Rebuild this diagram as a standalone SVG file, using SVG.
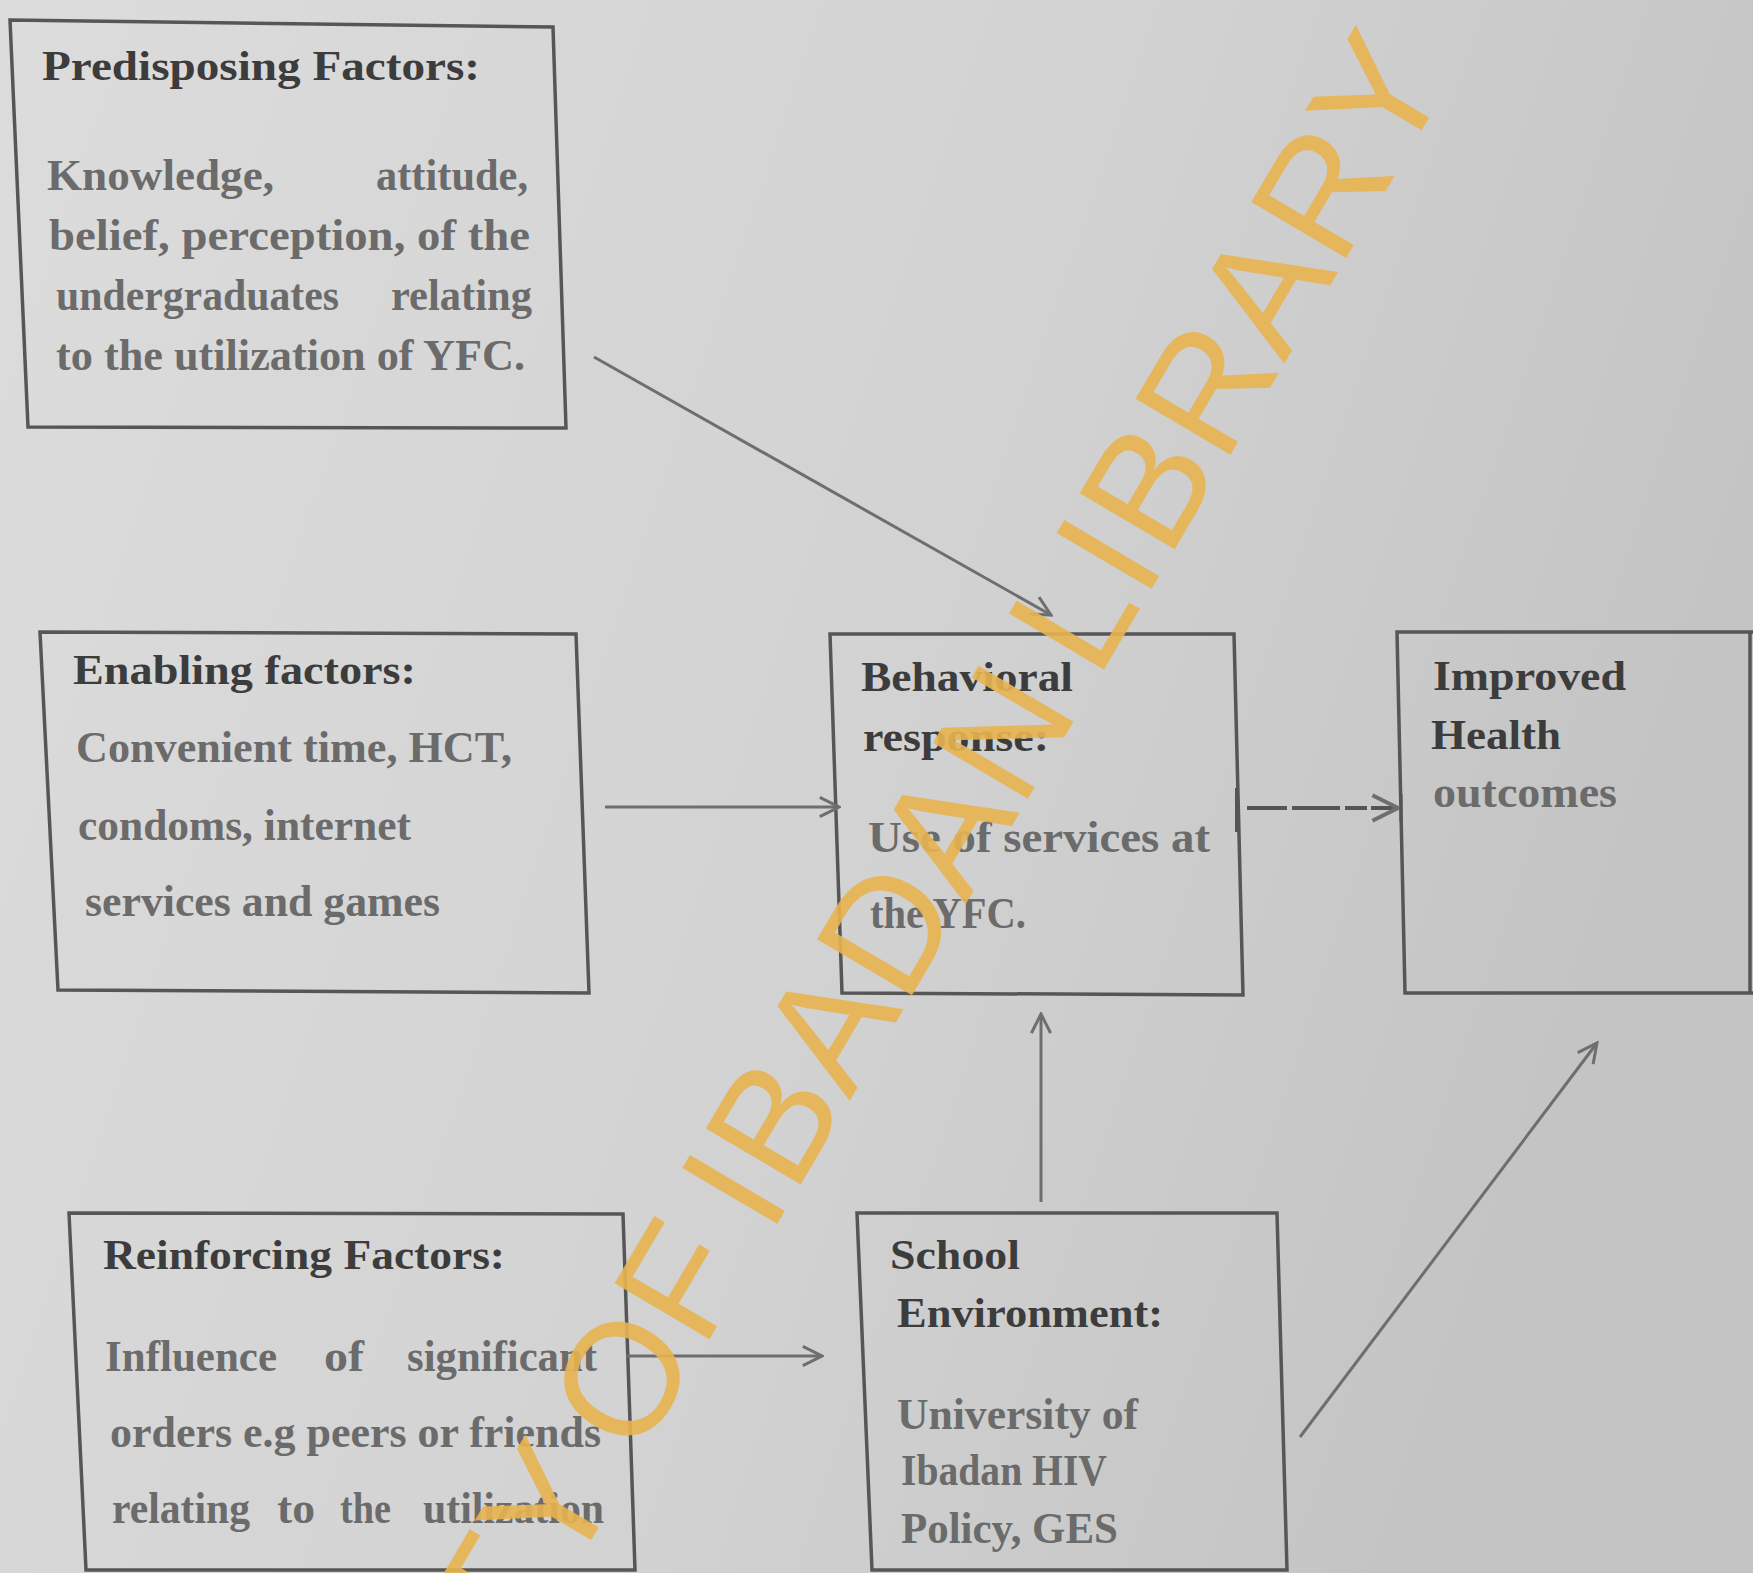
<svg xmlns="http://www.w3.org/2000/svg" width="1753" height="1573" viewBox="0 0 1753 1573">
<defs>
<linearGradient id="bg" x1="0" y1="0" x2="1" y2="0.3">
<stop offset="0" stop-color="#dcdcdc"/>
<stop offset="0.6" stop-color="#d2d2d2"/>
<stop offset="1" stop-color="#c4c4c4"/>
</linearGradient>
<marker id="chev" viewBox="0 0 20 20" refX="18" refY="10" markerWidth="8" markerHeight="8" orient="auto" markerUnits="strokeWidth">
<path d="M2,2 L18,10 L2,18" fill="none" stroke="#6e6e6e" stroke-width="2.5"/>
</marker>
<style>
.box{fill:none;stroke:#565656;stroke-width:3.5;stroke-linejoin:miter}
.ttl{font-family:"Liberation Serif",serif;font-weight:bold;font-size:42px;fill:#3c3c3c}
.bd{font-family:"Liberation Serif",serif;font-weight:bold;font-size:44px;fill:#6b6b6b}
.con{fill:none;stroke:#6e6e6e;stroke-width:3}
.wm{font-family:"Liberation Sans",sans-serif;font-size:160px;letter-spacing:3px;word-spacing:-16px;fill:#e8b450;opacity:0.9}
</style>
</defs>
<rect x="0" y="0" width="1753" height="1573" fill="url(#bg)"/>

<g id="predisposing">
<polygon class="box" points="10,20 553,27 566,428 28,427"/>
<text class="ttl" x="42" y="80" textLength="438" lengthAdjust="spacingAndGlyphs">Predisposing Factors:</text>
<text class="bd" x="47" y="190" textLength="227" lengthAdjust="spacingAndGlyphs">Knowledge,</text>
<text class="bd" x="376" y="190" textLength="152" lengthAdjust="spacingAndGlyphs">attitude,</text>
<text class="bd" x="49" y="250" textLength="481" lengthAdjust="spacingAndGlyphs">belief, perception, of the</text>
<text class="bd" x="56" y="310" textLength="283" lengthAdjust="spacingAndGlyphs">undergraduates</text>
<text class="bd" x="391" y="310" textLength="141" lengthAdjust="spacingAndGlyphs">relating</text>
<text class="bd" x="56" y="370" textLength="469" lengthAdjust="spacingAndGlyphs">to the utilization of YFC.</text>
</g>

<g id="enabling">
<polygon class="box" points="40,632 576,634 589,993 58,990"/>
<text class="ttl" x="73" y="684" textLength="343" lengthAdjust="spacingAndGlyphs">Enabling factors:</text>
<text class="bd" x="76" y="762" textLength="436" lengthAdjust="spacingAndGlyphs">Convenient time, HCT,</text>
<text class="bd" x="78" y="840" textLength="333" lengthAdjust="spacingAndGlyphs">condoms, internet</text>
<text class="bd" x="85" y="916" textLength="355" lengthAdjust="spacingAndGlyphs">services and games</text>
</g>

<g id="behavioral">
<polygon class="box" points="830,634 1234,634 1243,995 842,993"/>
<text class="ttl" x="861" y="691" textLength="212" lengthAdjust="spacingAndGlyphs">Behavioral</text>
<text class="ttl" x="863" y="751" textLength="186" lengthAdjust="spacingAndGlyphs">response:</text>
<text class="bd" x="868" y="852" textLength="342" lengthAdjust="spacingAndGlyphs">Use of services at</text>
<text class="bd" x="870" y="928" textLength="156" lengthAdjust="spacingAndGlyphs">the YFC.</text>
</g>

<g id="improved">
<polyline class="box" points="1760,632 1397,632 1405,993 1760,993"/>
<line class="box" x1="1750" y1="632" x2="1750" y2="993"/>
<text class="ttl" x="1433" y="690" textLength="193" lengthAdjust="spacingAndGlyphs">Improved</text>
<text class="ttl" x="1431" y="749" textLength="130" lengthAdjust="spacingAndGlyphs">Health</text>
<text class="bd" x="1433" y="807" textLength="184" lengthAdjust="spacingAndGlyphs">outcomes</text>
</g>

<g id="reinforcing">
<polygon class="box" points="69,1213 623,1214 635,1570 86,1570"/>
<text class="ttl" x="103" y="1269" textLength="402" lengthAdjust="spacingAndGlyphs">Reinforcing Factors:</text>
<text class="bd" x="105" y="1371" textLength="172" lengthAdjust="spacingAndGlyphs">Influence</text>
<text class="bd" x="324" y="1371" textLength="40" lengthAdjust="spacingAndGlyphs">of</text>
<text class="bd" x="407" y="1371" textLength="190" lengthAdjust="spacingAndGlyphs">significant</text>
<text class="bd" x="110" y="1447" textLength="491" lengthAdjust="spacingAndGlyphs">orders e.g peers or friends</text>
<text class="bd" x="112" y="1523" textLength="138" lengthAdjust="spacingAndGlyphs">relating</text>
<text class="bd" x="277" y="1523" textLength="38" lengthAdjust="spacingAndGlyphs">to</text>
<text class="bd" x="340" y="1523" textLength="51" lengthAdjust="spacingAndGlyphs">the</text>
<text class="bd" x="423" y="1523" textLength="181" lengthAdjust="spacingAndGlyphs">utilization</text>
</g>

<g id="school">
<polygon class="box" points="857,1213 1277,1213 1287,1570 872,1570"/>
<text class="ttl" x="890" y="1269" textLength="130" lengthAdjust="spacingAndGlyphs">School</text>
<text class="ttl" x="897" y="1327" textLength="266" lengthAdjust="spacingAndGlyphs">Environment:</text>
<text class="bd" x="897" y="1429" textLength="241" lengthAdjust="spacingAndGlyphs">University of</text>
<text class="bd" x="901" y="1485" textLength="206" lengthAdjust="spacingAndGlyphs">Ibadan HIV</text>
<text class="bd" x="901" y="1543" textLength="217" lengthAdjust="spacingAndGlyphs">Policy, GES</text>
</g>

<g id="connectors">
<line class="con" x1="594" y1="357" x2="1051" y2="615" marker-end="url(#chev)"/>
<line class="con" x1="605" y1="807" x2="839" y2="807" marker-end="url(#chev)"/>
<line class="con" x1="1041" y1="1202" x2="1041" y2="1014" marker-end="url(#chev)"/>
<line class="con" x1="626" y1="1356" x2="822" y2="1356" marker-end="url(#chev)"/>
<line class="con" x1="1300" y1="1437" x2="1597" y2="1043" marker-end="url(#chev)"/>
<line x1="1237" y1="788" x2="1237" y2="832" stroke="#555" stroke-width="4"/>
<line x1="1247" y1="808" x2="1398" y2="808" stroke="#555" stroke-width="4" stroke-dasharray="40 5 48 5 22 4 60" marker-end="url(#chev)"/>
<line x1="1401" y1="794" x2="1401" y2="822" stroke="#555" stroke-width="3"/>
</g>

<text class="wm" transform="translate(121,2338) rotate(-59.5)">UNIVERSITY OF IBADAN LIBRARY</text>
</svg>
